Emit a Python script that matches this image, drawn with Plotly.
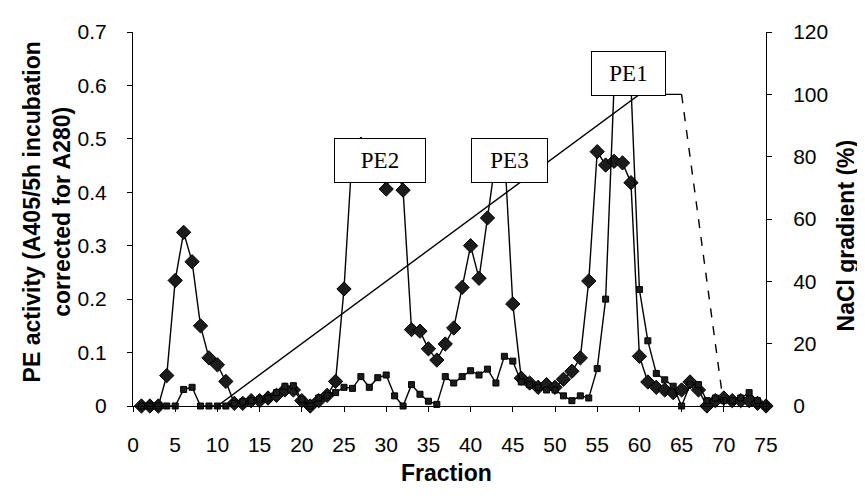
import plotly.graph_objects as go

# ---- data ----
fraction = list(range(1, 76))

pe_activity = [
    0.0, 0.0, 0.0, 0.057, 0.235, 0.325, 0.27, 0.15, 0.09, 0.077,      # 1-10
    0.046, 0.005, 0.005, 0.01, 0.01, 0.015, 0.02, 0.03, 0.03, 0.01,    # 11-20
    0.0, 0.01, 0.02, 0.046, 0.219, 0.48, 0.49, 0.47, 0.46, 0.406,      # 21-30
    0.46, 0.404, 0.143, 0.140, 0.107, 0.086, 0.116, 0.146, 0.222, 0.300,  # 31-40
    0.239, 0.352, 0.465, 0.48, 0.191, 0.052, 0.043, 0.035, 0.04, 0.035,   # 41-50
    0.05, 0.065, 0.09, 0.234, 0.476, 0.451, 0.458, 0.455, 0.418, 0.093,   # 51-60
    0.045, 0.035, 0.03, 0.025, 0.03, 0.045, 0.03, 0.0, 0.01, 0.015,       # 61-70
    0.01, 0.01, 0.01, 0.005, 0.0,                                          # 71-75
]

protein = [
    0.0, 0.0, 0.0, 0.0, 0.0, 0.031, 0.035, 0.0, 0.0, 0.0,               # 1-10
    0.0, 0.005, 0.008, 0.01, 0.013, 0.015, 0.025, 0.037, 0.038, 0.012,  # 11-20
    0.0, 0.015, 0.02, 0.025, 0.035, 0.033, 0.055, 0.035, 0.053, 0.058,  # 21-30
    0.019, 0.0, 0.040, 0.022, 0.009, 0.003, 0.055, 0.043, 0.055, 0.066, # 31-40
    0.058, 0.069, 0.043, 0.093, 0.084, 0.045, 0.04, 0.035, 0.03, 0.03,  # 41-50
    0.019, 0.01, 0.019, 0.015, 0.07, 0.20, 0.60, 0.63, 0.60, 0.218,     # 51-60
    0.122, 0.061, 0.049, 0.037, 0.0, 0.04, 0.04, 0.01, 0.015, 0.01,     # 61-70
    0.01, 0.015, 0.025, 0.01, 0.0,                                       # 71-75
]

gradient_x = [10, 60, 65]
gradient_y = [0, 100, 100]
gradient_end_x = [65, 70]
gradient_end_y = [100, 0]

x_ticks = list(range(0, 80, 5))
peak_labels = ["PE1", "PE2", "PE3"]
peak_x = [58.7, 29.3, 44.6]
peak_y = [0.622, 0.460, 0.460]
peak_w = [73, 90, 75]

SANS = "Liberation Sans, Arial, sans-serif"
SERIF = "Liberation Serif, Times New Roman, serif"

fig = go.Figure()

fig.add_trace(go.Scatter(
    x=fraction, y=pe_activity, mode="lines+markers",
    line=dict(color="black", width=1.4),
    marker=dict(symbol="diamond", size=11, color="#1c1c1c",
                line=dict(color="black", width=1)),
    cliponaxis=False, showlegend=False))

fig.add_trace(go.Scatter(
    x=fraction, y=protein, mode="lines+markers",
    line=dict(color="black", width=1.4),
    marker=dict(symbol="square", size=6, color="#1c1c1c",
                line=dict(color="black", width=1)),
    cliponaxis=False, showlegend=False))

fig.add_trace(go.Scatter(
    x=gradient_x, y=gradient_y, mode="lines", yaxis="y2",
    line=dict(color="black", width=1.4), showlegend=False))

fig.add_trace(go.Scatter(
    x=gradient_end_x, y=gradient_end_y, mode="lines", yaxis="y2",
    line=dict(color="black", width=1.4, dash="dash"), showlegend=False))

for lab, px, py, w in zip(peak_labels, peak_x, peak_y, peak_w):
    fig.add_annotation(
        x=px, y=py, xref="x", yref="y", text=lab, showarrow=False,
        font=dict(family=SERIF, size=23, color="black"),
        bgcolor="white", bordercolor="black", borderwidth=1, borderpad=0,
        width=w, height=43, align="center", valign="middle")

# axis titles
fig.add_annotation(
    x=-0.136, y=0.52, xref="paper", yref="paper",
    text="<b>PE activity (A405/5h incubation<br>corrected for A280)</b>",
    textangle=-90, showarrow=False, xanchor="center", yanchor="middle",
    font=dict(family=SANS, size=23, color="black"))
fig.add_annotation(
    x=1.127, y=0.457, xref="paper", yref="paper",
    text="<b>NaCl gradient (%)</b>",
    textangle=-90, showarrow=False, xanchor="center", yanchor="middle",
    font=dict(family=SANS, size=23, color="black"))
fig.add_annotation(
    x=0.496, y=-0.178, xref="paper", yref="paper",
    text="<b>Fraction</b>", showarrow=False, xanchor="center", yanchor="middle",
    font=dict(family=SANS, size=23, color="black"))

axis_common = dict(showgrid=False, zeroline=False, showline=True,
                   linecolor="black", linewidth=1, ticks="outside",
                   ticklen=5, tickcolor="black",
                   tickfont=dict(family=SANS, size=21, color="black"))

# The page body adds an 8px offset, so the figure is sized 8px smaller
fig.update_layout(
    width=857, height=488,
    margin=dict(l=125, r=99, t=12, b=90),
    plot_bgcolor="white", paper_bgcolor="white",
    xaxis=dict(range=[0, 75], tickvals=x_ticks, ticklabelstandoff=15,
               **axis_common),
    yaxis=dict(range=[0, 0.7], dtick=0.1, ticklabelstandoff=16,
               **axis_common),
    yaxis2=dict(range=[0, 120], dtick=20, overlaying="y", side="right",
                ticklabelstandoff=17, **axis_common),
)

fig.write_html("out.html")
